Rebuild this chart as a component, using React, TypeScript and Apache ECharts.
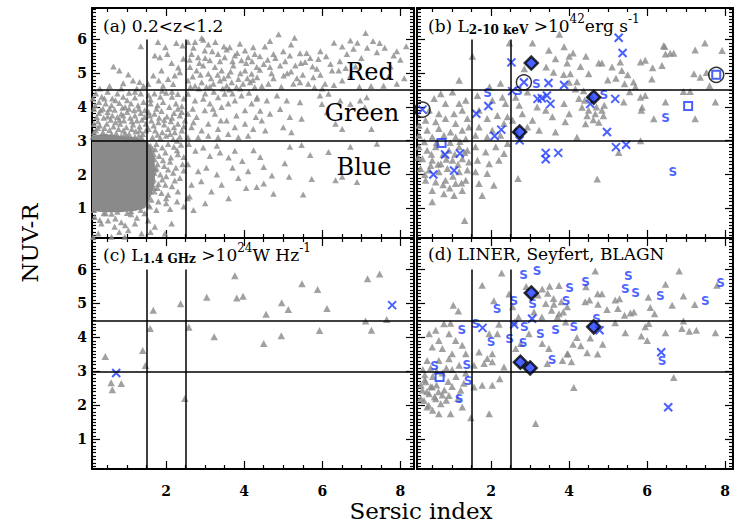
import React, { useEffect, useRef } from "react";
import * as echarts from "echarts";

const BLUE = "#1a3aff";
const GRAY = "#8a8a8a";
const SERIF = "DejaVu Serif";

// ---- axis ticks ----
const X_MAJOR = [2, 4, 6, 8];
const X_MINOR = [0.5, 1, 1.5, 2.5, 3, 3.5, 4.5, 5, 5.5, 6.5, 7, 7.5];
const Y_MAJOR = [1, 2, 3, 4, 5, 6];
const Y_MINOR: number[] = [];
for (let k = 2; k <= 69; k++) if (k % 10 !== 0) Y_MINOR.push(k / 10);

const Y_MIN = 0.12;
const Y_MAX = 6.93;

// ---- dividing lines ----
const COLOR_CUTS = [3, 4.5];
const SERSIC_CUTS = [1.5, 2.5];
const SERSIC_CUT_TOP = 6;

// ---- panel (a): all galaxies 0.2<z<1.2 ----
const A_DENSE = [
  [0.1, 3.15], [0.4, 3.2], [0.8, 3.15], [1.2, 3.1], [1.45, 3.02], [1.6, 2.85], [1.7, 2.5],
  [1.72, 2.0], [1.68, 1.6], [1.58, 1.25], [1.45, 1.0], [1.2, 0.92], [0.8, 0.88], [0.4, 0.88], [0.1, 0.92],
];
const A_TRI = [
  [0.65, 5.2], [0.8, 5.08], [1.03, 4.96], [1.15, 4.78], [1.32, 4.74], [1.35, 5.8], [1.42, 4.62], [0.55, 4.62], [0.9, 4.7],
  [1.79, 5.92], [1.98, 5.77], [1.71, 5.52], [1.84, 5.47], [2.03, 5.57], [2.14, 5.3], [2.26, 5.89], [1.67, 4.93], [1.81, 4.78],
  [2.05, 4.83], [2.22, 4.93], [2.35, 5.03], [2.42, 5.82], [1.54, 4.68], [1.92, 4.63], [2.18, 4.68], [2.31, 5.17], [2.44, 5.43], [1.88, 5.08],
  [2.56, 5.92], [2.74, 5.92], [2.95, 5.99], [3.08, 5.85], [3.26, 5.92], [3.48, 5.79], [3.63, 5.77], [3.89, 5.87], [4.02, 5.67],
  [4.23, 5.77], [2.65, 5.57], [2.82, 5.47], [2.99, 5.67], [3.12, 5.38], [3.33, 5.57], [3.5, 5.47], [3.76, 5.52], [3.93, 5.38],
  [4.1, 5.47], [4.27, 5.57], [2.61, 5.18], [2.78, 5.08], [2.95, 5.23], [3.08, 4.98], [3.25, 5.18], [3.42, 5.08], [3.59, 4.93],
  [3.72, 5.23], [3.85, 4.83], [4.02, 5.08], [4.19, 4.98], [4.32, 5.18], [2.56, 4.78], [2.74, 4.63], [2.91, 4.73], [3.03, 4.59],
  [3.21, 4.69], [3.38, 4.78], [3.55, 4.63], [3.68, 4.73], [3.8, 4.59], [3.97, 4.69], [4.15, 4.73], [4.27, 4.59], [2.91, 6.04],
  [4.88, 6.15], [5.29, 6.05], [4.66, 5.95], [4.53, 5.79], [4.4, 5.5], [4.75, 5.57], [5.17, 5.52], [5.43, 5.59], [5.69, 5.45],
  [5.9, 5.42], [4.5, 5.27], [4.66, 5.18], [4.92, 5.23], [5.31, 5.23], [5.56, 5.33], [5.86, 5.13], [6.21, 5.27], [6.51, 5.79],
  [6.72, 5.97], [6.8, 5.72], [6.63, 5.57], [7.11, 6.19], [7.47, 5.89], [7.15, 5.75], [7.4, 5.62], [7.83, 5.52], [7.91, 5.65],
  [6.42, 5.08], [6.72, 4.93], [6.51, 4.78], [6.25, 5.08], [7.91, 4.69], [4.33, 4.88], [4.62, 4.69], [5.01, 4.93], [5.26, 4.69],
  [5.43, 4.73], [5.64, 4.69], [5.77, 4.88], [6.07, 4.69], [7.57, 4.63], [7.0, 5.45], [6.95, 4.6], [7.25, 4.62], [5.1, 5.0],
  [2.6, 5.4], [2.7, 5.75], [2.85, 5.3], [3.0, 5.45], [3.18, 5.65], [3.38, 5.35], [3.55, 5.7], [3.7, 5.35], [3.82, 5.6],
  [4.05, 5.3], [4.2, 5.35], [2.68, 4.9], [2.88, 4.95], [3.15, 4.85], [3.32, 4.95], [3.48, 4.85], [3.65, 5.05], [3.9, 5.0],
  [4.08, 4.85], [2.62, 4.6], [2.84, 4.55], [3.12, 4.6], [3.45, 4.55], [3.62, 4.52], [3.9, 4.55], [4.22, 4.8],
  [4.4, 5.1], [4.6, 5.4], [4.8, 5.45], [5.0, 5.65], [5.05, 5.35], [5.2, 5.85], [5.45, 5.3], [5.6, 5.6], [5.75, 5.2],
  [5.95, 5.65], [4.45, 4.62], [4.75, 4.85], [4.95, 4.6], [5.2, 5.05], [5.5, 4.95], [5.8, 4.58], [5.95, 4.95], [4.7, 5.0], [5.35, 4.85],
  [6.1, 5.5], [6.3, 5.9], [6.45, 5.35], [6.6, 5.15], [6.9, 5.9], [7.3, 5.95], [7.6, 5.75], [7.75, 5.2], [8.0, 5.4],
  [8.1, 4.85], [6.3, 4.65], [6.85, 5.2], [7.7, 4.9], [8.15, 5.8], [6.0, 4.55],
  [0.2, 4.4], [0.35, 4.3], [0.5, 4.45], [0.62, 4.25], [0.75, 4.4], [0.9, 4.3], [1.05, 4.42], [1.2, 4.28], [1.35, 4.4],
  [0.28, 4.15], [0.45, 4.1], [0.6, 4.05], [0.8, 4.12], [0.95, 4.0], [1.1, 4.1], [1.28, 4.05], [1.42, 4.15], [0.15, 3.95],
  [0.32, 3.9], [0.5, 3.85], [0.68, 3.92], [0.85, 3.8], [1.0, 3.85], [1.18, 3.9], [1.35, 3.82], [0.22, 3.7], [0.4, 3.68],
  [0.58, 3.62], [0.75, 3.7], [0.92, 3.6], [1.08, 3.68], [1.25, 3.6], [1.45, 3.7], [0.15, 3.5], [0.3, 3.45], [0.48, 3.5],
  [0.65, 3.42], [0.82, 3.5], [0.98, 3.4], [1.15, 3.48], [1.32, 3.42], [1.48, 3.5], [0.2, 3.3], [0.38, 3.25], [0.55, 3.32],
  [0.72, 3.22], [0.9, 3.3], [1.05, 3.2], [1.22, 3.28], [1.4, 3.2], [0.12, 3.12], [0.3, 3.1], [0.48, 3.15], [0.66, 3.08],
  [0.85, 3.14], [1.02, 3.07], [1.2, 3.12], [1.38, 3.08], [0.25, 3.58], [0.7, 3.55], [1.2, 3.75], [0.42, 4.25], [1.0, 4.2],
  [0.55, 3.95], [1.3, 3.95], [0.88, 3.98], [0.12, 4.25], [1.48, 3.3],
  [0.18, 4.05], [0.38, 3.95], [0.62, 3.75], [0.8, 3.62], [1.12, 3.58], [1.38, 3.62], [0.25, 3.38], [0.42, 3.38], [0.6, 3.2],
  [0.78, 3.35], [0.95, 3.22], [1.12, 3.35], [1.3, 3.15], [0.15, 3.25], [0.35, 3.02], [0.55, 3.05], [0.75, 3.05], [0.95, 3.08],
  [1.15, 3.02], [1.32, 3.3], [0.5, 3.72], [0.9, 3.75], [1.05, 3.95], [1.45, 3.9], [0.28, 3.82], [0.7, 4.2], [1.2, 4.45],
  [0.3, 4.55], [0.85, 4.55], [1.25, 4.55],
  [1.55, 4.35], [1.7, 4.4], [1.85, 4.3], [2.0, 4.42], [2.15, 4.3], [2.3, 4.38], [2.45, 4.25], [1.6, 4.1], [1.78, 4.05],
  [1.92, 4.15], [2.08, 4.0], [2.25, 4.1], [2.4, 4.02], [1.55, 3.85], [1.7, 3.8], [1.88, 3.88], [2.02, 3.72], [2.2, 3.82],
  [2.35, 3.75], [1.62, 3.6], [1.8, 3.55], [1.95, 3.48], [2.12, 3.58], [2.3, 3.5], [2.48, 3.6], [1.55, 3.35], [1.72, 3.3],
  [1.9, 3.25], [2.05, 3.35], [2.22, 3.25], [2.4, 3.3], [1.65, 3.1], [1.85, 3.08], [2.0, 3.15], [2.18, 3.05], [2.35, 3.12],
  [1.75, 3.95], [2.3, 3.95], [1.95, 3.62], [2.45, 3.42],
  [1.58, 3.75], [1.82, 3.68], [2.15, 3.68], [2.4, 3.85], [1.68, 3.45], [2.2, 3.4], [1.78, 3.18], [2.1, 3.2], [2.28, 3.0],
  [1.6, 4.22], [2.15, 4.45], [1.9, 4.48],
  [2.56, 4.39], [2.74, 4.19], [2.95, 4.24], [3.12, 4.1], [3.33, 4.29], [3.5, 4.39], [2.56, 3.8], [2.78, 3.7], [2.99, 3.9],
  [3.25, 3.8], [3.42, 4.0], [3.59, 4.1], [3.76, 4.19], [3.93, 4.34], [4.02, 3.9], [4.19, 4.1], [4.32, 4.24], [2.65, 3.4],
  [2.91, 3.3], [3.08, 3.5], [3.33, 3.35], [3.55, 3.6], [3.76, 3.4], [4.02, 3.5], [4.23, 3.35], [2.56, 3.1], [2.82, 3.1],
  [3.08, 3.15], [3.33, 3.1], [3.59, 3.2], [3.85, 3.1], [4.1, 3.15],
  [2.68, 3.95], [3.0, 4.4], [3.22, 4.45], [3.7, 4.4], [4.12, 4.42], [3.4, 3.6], [3.8, 3.75], [2.7, 3.55], [3.2, 3.95], [4.3, 3.7],
  [4.33, 4.29], [4.58, 4.19], [4.84, 4.34], [5.09, 4.19], [4.41, 3.89], [4.66, 3.8], [4.92, 3.94], [5.17, 3.7], [5.43, 4.14],
  [5.47, 3.65], [5.94, 4.34], [5.99, 4.09], [6.16, 4.39], [6.12, 3.84], [6.46, 4.19], [6.34, 3.5], [6.51, 3.35], [6.72, 4.09],
  [6.97, 4.19], [7.14, 4.29], [7.09, 3.99], [7.26, 3.35], [4.45, 3.6], [5.0, 3.4], [5.21, 3.25], [4.54, 3.3],
  [1.6, 2.85], [1.75, 2.9], [1.9, 2.8], [2.05, 2.9], [2.2, 2.82], [2.38, 2.88], [1.68, 2.6], [1.82, 2.55], [1.98, 2.65],
  [2.12, 2.5], [2.3, 2.6], [2.45, 2.52], [1.62, 2.35], [1.78, 2.3], [1.95, 2.25], [2.1, 2.38], [2.25, 2.2], [2.42, 2.3],
  [1.7, 2.05], [1.85, 2.0], [2.0, 1.95], [2.18, 2.05], [2.35, 1.9], [1.65, 1.8], [1.8, 1.72], [1.98, 1.7], [2.15, 1.65],
  [1.7, 1.5], [1.88, 1.45], [2.05, 1.4], [2.3, 1.5], [1.62, 1.25], [1.8, 1.2], [2.0, 1.15], [2.28, 1.2], [2.55, 1.3],
  [1.75, 0.95], [2.1, 0.98], [2.45, 1.05], [1.58, 1.05],
  [1.72, 2.75], [1.92, 2.42], [2.28, 2.72], [1.75, 2.18], [2.05, 2.15], [1.9, 1.85], [2.22, 1.82], [1.78, 1.6], [2.45, 2.12], [2.0, 1.3],
  [2.58, 2.9], [2.75, 2.7], [2.95, 2.8], [3.12, 2.55], [3.38, 2.65], [3.6, 2.5], [3.76, 2.7], [3.95, 2.4], [2.56, 2.3],
  [2.82, 2.1], [3.03, 2.2], [3.3, 2.0], [2.65, 1.7], [2.9, 1.8], [3.16, 1.5], [3.42, 1.7], [3.6, 1.3], [2.6, 1.35],
  [3.0, 1.15], [3.85, 1.9], [4.1, 2.1], [4.05, 1.6], [3.7, 2.2], [2.7, 0.95], [3.3, 2.85],
  [4.24, 2.72], [4.41, 2.52], [4.5, 2.22], [4.71, 1.97], [4.75, 1.43], [5.17, 2.82], [5.47, 2.87], [5.69, 2.58], [5.04, 2.33],
  [5.15, 1.93], [5.51, 1.41], [5.73, 1.87], [6.16, 2.67], [6.34, 1.83], [6.51, 1.93], [6.72, 2.82], [6.89, 1.78], [4.32, 1.63],
  [4.5, 1.73], [7.4, 2.91],
  [0.17, 0.74], [0.34, 0.55], [0.51, 0.64], [0.68, 0.45], [0.85, 0.59], [1.03, 0.35], [1.2, 0.55], [1.37, 0.25], [0.26, 0.25],
  [0.6, 0.16], [0.94, 0.16], [1.54, 0.64], [1.71, 0.45], [1.97, 0.25], [2.14, 0.55], [0.13, 0.15], [0.45, 0.85], [1.1, 0.82],
  [1.45, 0.85], [0.8, 0.3], [0.3, 0.65], [0.7, 0.7], [1.25, 0.72], [1.6, 0.3], [0.95, 0.5],
  [1.65, 2.75], [1.7, 2.45], [1.72, 2.15], [1.68, 1.85], [1.7, 1.6], [1.55, 1.1], [1.35, 0.95], [1.1, 0.92], [0.75, 0.9],
  [0.4, 0.85], [0.15, 0.95], [1.5, 2.95], [1.58, 2.55], [1.62, 2.05], [1.6, 1.5], [1.52, 1.35], [0.6, 0.84], [1.0, 0.86],
];

// ---- panel (b): X-ray AGN ----
const B_TRI = [
  [2.47, 5.89], [3.06, 5.89], [1.52, 5.5], [1.18, 4.79], [1.96, 4.6], [2.24, 4.7], [3.48, 5.68], [3.87, 5.78], [3.65, 5.43],
  [4.0, 5.5], [3.41, 5.18], [3.6, 5.03], [3.86, 4.96], [4.0, 4.73], [2.85, 5.13], [3.75, 6.15],
  [0.71, 4.39], [1.01, 4.44], [0.54, 4.25], [0.83, 4.1], [1.18, 4.1], [1.35, 4.2], [0.41, 3.9], [0.66, 3.8], [1.05, 3.8],
  [1.26, 3.9], [0.32, 3.61], [0.58, 3.56], [0.83, 3.66], [1.09, 3.51], [1.39, 3.66], [0.36, 3.31], [0.66, 3.36], [0.96, 3.26],
  [1.26, 3.31], [1.43, 3.41], [0.49, 3.11], [0.79, 3.16], [1.09, 3.11], [1.35, 3.06], [0.15, 3.46], [0.15, 3.16],
  [1.65, 4.34], [2.03, 4.2], [2.29, 4.29], [1.69, 3.9], [1.9, 3.66], [2.16, 3.75], [2.37, 4.1], [1.69, 3.41], [2.03, 3.31],
  [2.33, 3.51], [1.6, 3.16], [1.9, 3.11], [2.24, 3.16], [2.42, 3.71],
  [2.63, 4.29], [2.93, 4.44], [3.18, 4.0], [3.4, 3.9], [2.8, 3.8], [3.06, 3.61], [3.57, 3.71], [3.87, 4.1], [4.0, 3.8],
  [2.63, 3.31], [2.93, 3.41], [3.23, 3.31], [3.65, 3.26], [3.9, 3.56], [2.55, 3.61], [2.72, 4.05],
  [0.15, 2.82], [0.36, 2.72], [0.58, 2.82], [0.92, 2.72], [1.18, 2.82], [1.39, 2.72], [0.24, 2.47], [0.49, 2.42], [0.71, 2.32],
  [1.01, 2.42], [1.26, 2.47], [1.43, 2.37], [0.19, 2.18], [0.41, 2.13], [0.66, 2.08], [0.88, 2.18], [1.18, 2.08], [1.39, 2.13],
  [0.32, 1.83], [0.58, 1.78], [0.83, 1.83], [1.09, 1.73], [1.35, 1.83], [0.49, 1.53], [0.79, 1.43], [1.05, 1.38], [1.26, 1.53],
  [0.49, 1.19], [1.32, 0.64], [1.77, 1.38],
  [0.29, 2.97], [0.47, 2.6], [0.77, 2.6], [1.07, 2.6], [1.32, 2.65], [0.64, 2.3], [1.02, 1.95], [0.77, 1.7], [0.94, 1.6],
  [0.3, 2.0], [0.13, 2.5], [1.24, 1.75], [0.6, 2.95], [0.95, 2.95], [1.2, 2.98], [0.45, 2.27], [0.85, 2.45], [1.15, 2.3],
  [1.6, 2.82], [1.86, 2.67], [2.12, 2.82], [2.33, 2.62], [1.65, 2.42], [1.95, 2.32], [2.2, 2.42], [1.6, 2.08], [1.9, 2.03],
  [1.69, 1.73], [2.07, 1.68], [2.42, 2.92], [2.69, 1.88],
  [4.43, 5.5], [4.29, 5.2], [4.76, 5.3], [4.84, 5.3], [4.03, 4.98], [4.5, 4.98], [4.99, 4.8], [5.1, 5.18], [5.31, 5.33],
  [5.35, 5.08], [5.42, 4.69], [5.65, 4.74], [5.83, 5.33], [5.95, 5.38], [6.14, 5.16], [6.12, 4.83], [6.38, 5.23], [6.45, 5.79],
  [6.59, 5.59], [6.47, 5.57], [7.2, 4.98], [7.36, 4.88], [7.48, 5.89], [7.92, 5.67], [7.6, 4.63], [4.16, 4.53], [4.37, 4.48],
  [5.4, 4.15], [5.83, 4.29], [5.95, 4.34], [5.87, 3.99], [5.85, 3.9], [6.47, 4.15], [6.17, 3.65], [6.93, 4.46], [7.1, 4.46],
  [7.23, 3.65], [7.75, 4.15], [4.33, 3.99], [4.46, 3.74], [4.67, 3.8], [4.84, 3.9], [4.88, 3.74], [4.76, 3.55], [4.42, 3.5],
  [4.2, 3.1], [5.83, 3.0], [5.27, 2.65], [4.72, 1.87],
  [4.4, 4.2], [4.55, 4.35], [4.7, 4.0], [4.9, 4.05], [4.5, 3.9], [4.25, 4.25], [4.62, 3.62], [5.2, 4.85], [5.5, 4.95],
  [5.7, 4.6], [5.55, 4.45], [3.95, 5.3], [4.1, 5.6], [4.2, 4.75], [7.23, 5.69], [7.52, 5.02], [6.42, 5.81], [6.68, 5.59],
];
const B_X = [
  [0.24, 3.92], [2.52, 5.32], [2.84, 4.73], [3.47, 4.71], [3.87, 4.65], [2.54, 4.47], [3.19, 4.24], [3.3, 4.26], [3.43, 4.34],
  [3.52, 4.09], [1.93, 4.03], [1.62, 3.8], [2.26, 3.33], [2.09, 3.14], [2.73, 3.01], [0.82, 2.59], [1.2, 2.62], [0.52, 2.0],
  [1.05, 2.12], [3.4, 2.64], [3.4, 2.45], [3.72, 2.64], [5.27, 6.05], [5.37, 5.6], [4.54, 4.09], [5.18, 4.24], [4.97, 3.26],
  [5.2, 2.81], [5.46, 2.88],
];
const B_S = [[2.7, 4.47], [3.16, 4.69], [1.91, 4.41], [4.89, 4.36], [6.47, 3.67], [6.66, 2.07]];
const B_SQ = [[0.73, 2.93], [7.05, 4.03], [7.77, 4.95]];
const B_DIA = [[3.03, 5.3], [2.73, 3.26], [4.63, 4.29]];
const B_CIRC = [[0.24, 3.92], [2.84, 4.73], [7.77, 4.95]];

// ---- panel (c): radio AGN ----
const C_TRI = [
  [0.44, 3.44], [0.59, 2.66], [0.62, 2.46], [0.85, 2.64], [1.4, 3.61], [1.47, 3.17], [1.59, 4.26], [1.67, 4.8], [2.37, 4.99],
  [2.48, 2.2], [2.58, 4.3], [3.04, 5.18], [3.23, 4.02], [3.76, 5.82], [3.81, 5.16], [3.97, 5.21], [4.5, 3.82], [4.56, 4.68],
  [4.96, 5.02], [4.95, 4.05], [5.13, 4.82], [5.48, 5.58], [5.88, 5.41], [5.93, 4.2], [6.12, 4.85], [7.11, 4.48], [7.16, 5.73],
  [7.26, 4.21], [7.47, 5.87], [7.65, 4.53],
];
const C_X = [[0.72, 2.95], [7.79, 4.95]];

// ---- panel (d): optical emission-line AGN ----
const D_TRI = [
  [2.27, 5.9], [1.77, 5.54], [1.03, 4.95], [1.16, 4.78], [2.07, 5.08], [2.46, 5.28], [3.31, 5.43], [3.5, 5.51], [3.74, 5.53],
  [3.4, 5.0], [3.61, 4.98], [3.74, 4.7], [3.91, 4.45], [0.79, 4.4], [0.96, 4.42], [0.58, 4.21], [0.41, 4.11], [0.66, 3.91],
  [0.92, 4.11], [1.09, 3.91], [1.26, 3.77], [0.49, 3.72], [0.75, 3.67], [1.0, 3.52], [1.35, 3.52], [1.69, 3.57], [1.9, 3.38],
  [2.03, 3.52], [2.16, 4.11], [2.2, 4.39], [1.95, 4.11], [0.36, 3.32], [0.66, 3.32], [0.92, 3.37], [1.18, 3.18], [1.56, 3.18],
  [1.82, 3.23], [2.03, 3.28], [2.33, 3.13], [2.97, 4.11], [2.76, 3.82], [2.63, 3.67], [3.31, 3.82], [3.48, 3.67], [3.44, 3.23],
  [3.83, 3.32], [3.95, 3.52], [0.24, 2.44], [0.32, 2.69], [0.41, 2.34], [0.49, 2.54], [0.28, 2.14], [0.36, 1.95], [0.58, 2.19],
  [0.71, 2.04], [0.92, 2.29], [0.96, 1.75], [1.22, 2.44], [1.26, 1.95], [1.56, 2.54], [1.77, 2.59], [2.03, 2.59], [2.22, 2.78],
  [1.95, 1.75], [1.48, 1.63], [0.66, 1.75], [3.14, 1.46],
  [0.3, 2.9], [0.5, 2.85], [0.75, 2.95], [0.9, 2.7], [1.1, 2.85], [1.3, 2.65], [0.25, 3.05], [0.45, 3.1], [0.6, 3.0],
  [0.85, 3.1], [1.0, 3.05], [1.35, 2.95], [0.2, 2.6], [0.6, 2.6], [0.8, 2.45], [1.0, 2.55], [0.35, 2.4], [0.55, 2.25],
  [0.75, 2.3], [0.3, 2.75], [0.45, 2.55], [1.15, 2.2], [0.2, 2.2], [0.4, 2.0], [0.65, 2.4], [0.85, 2.15], [0.5, 1.85],
  [3.2, 5.25], [3.45, 5.3], [3.6, 5.15], [3.8, 5.05], [3.85, 4.75], [3.55, 4.8], [3.7, 4.6], [3.95, 4.9], [3.3, 4.6],
  [2.7, 4.6], [2.55, 4.9], [2.9, 5.5], [3.1, 4.75], [2.6, 4.45],
  [4.67, 5.96], [6.82, 5.96], [4.43, 5.49], [4.41, 5.05], [4.52, 5.1], [4.73, 5.29], [4.84, 5.29], [4.74, 4.98], [4.97, 4.82],
  [5.18, 5.1], [5.29, 5.14], [5.25, 4.85], [5.42, 4.65], [5.57, 4.72], [5.66, 4.75], [6.03, 5.18], [6.08, 4.88], [6.19, 4.7],
  [6.47, 5.57], [6.64, 4.95], [6.93, 5.22], [7.22, 4.97], [7.79, 5.54], [6.93, 4.48], [6.89, 4.26], [7.08, 4.18], [7.26, 4.21],
  [7.75, 4.14], [6.47, 4.14], [6.04, 4.41], [5.95, 4.31], [5.85, 4.04], [6.0, 3.91], [5.18, 4.43], [5.44, 4.14], [4.54, 3.98],
  [4.86, 3.8], [4.46, 3.55], [4.73, 3.51], [3.97, 3.51], [4.06, 3.28], [6.68, 2.82], [4.12, 2.52], [4.2, 4.0], [4.3, 3.75], [4.1, 3.8],
];
const D_X = [[1.78, 4.28], [2.59, 4.38], [3.05, 4.55], [4.78, 4.21], [6.36, 3.56], [6.54, 1.94]];
const D_S = [
  [2.83, 5.85], [3.18, 5.95], [3.06, 4.97], [2.58, 5.08], [2.15, 4.84], [2.85, 4.31], [2.47, 3.94], [2.82, 3.84], [2.0, 3.86],
  [1.6, 4.38], [1.25, 4.21], [0.55, 3.15], [1.38, 3.2], [1.41, 2.71], [1.18, 2.17], [4.01, 5.47], [3.92, 5.07], [4.42, 5.63],
  [4.7, 4.55], [4.12, 4.31], [3.65, 4.21], [3.26, 4.11], [3.56, 3.33], [5.52, 5.8], [5.44, 5.42], [5.7, 5.3], [6.34, 5.23],
  [6.38, 3.3], [7.49, 5.08], [7.88, 5.61],
];
const D_SQ = [[0.68, 2.83]];
const D_DIA = [[3.03, 5.31], [2.75, 3.27], [3.0, 3.1], [4.63, 4.31]];

const GRIDS = [
  { left: 92, top: 8, width: 322, height: 230, xMin: 0.1, xMax: 8.35, showX: false, showY: true },
  { left: 417, top: 8, width: 316, height: 230, xMin: 0.1, xMax: 8.2, showX: false, showY: false },
  { left: 92, top: 238, width: 322, height: 231, xMin: 0.1, xMax: 8.35, showX: true, showY: true },
  { left: 417, top: 238, width: 316, height: 231, xMin: 0.1, xMax: 8.2, showX: true, showY: false },
];

const CROSS = "path://M0 0L10 10M10 0L0 10";

function buildOption() {
  const axisLine = { show: true, onZero: false, lineStyle: { color: "#000", width: 2 } };
  const tickStyle = { color: "#000", width: 1.2 };
  const labelStyle = { color: "#000", fontFamily: SERIF, fontWeight: "bold" as const, fontSize: 14 };
  const xAxis: any[] = [];
  const yAxis: any[] = [];
  GRIDS.forEach((g, i) => {
    const xb = { gridIndex: i, type: "value", min: g.xMin, max: g.xMax, splitLine: { show: false } };
    xAxis.push({ ...xb, position: "bottom", axisLine,
      axisTick: { show: true, inside: true, length: 8, customValues: X_MAJOR, lineStyle: tickStyle },
      axisLabel: { show: g.showX, customValues: X_MAJOR, margin: 15, lineHeight: 14, ...labelStyle } });
    xAxis.push({ ...xb, position: "top", axisLine,
      axisTick: { show: true, inside: true, length: 8, customValues: X_MAJOR, lineStyle: tickStyle },
      axisLabel: { show: false } });
    xAxis.push({ ...xb, position: "bottom", axisLine: { show: false },
      axisTick: { show: true, inside: true, length: 4, customValues: X_MINOR, lineStyle: tickStyle },
      axisLabel: { show: false } });
    xAxis.push({ ...xb, position: "top", axisLine: { show: false },
      axisTick: { show: true, inside: true, length: 4, customValues: X_MINOR, lineStyle: tickStyle },
      axisLabel: { show: false } });
    const yb = { gridIndex: i, type: "value", min: Y_MIN, max: Y_MAX, splitLine: { show: false } };
    yAxis.push({ ...yb, position: "left", axisLine,
      axisTick: { show: true, inside: true, length: 8, customValues: Y_MAJOR, lineStyle: tickStyle },
      axisLabel: { show: g.showY, customValues: Y_MAJOR, margin: 5, ...labelStyle } });
    yAxis.push({ ...yb, position: "right", axisLine,
      axisTick: { show: true, inside: true, length: 8, customValues: Y_MAJOR, lineStyle: tickStyle },
      axisLabel: { show: false } });
    yAxis.push({ ...yb, position: "left", axisLine: { show: false },
      axisTick: { show: true, inside: true, length: 4, customValues: Y_MINOR, lineStyle: tickStyle },
      axisLabel: { show: false } });
    yAxis.push({ ...yb, position: "right", axisLine: { show: false },
      axisTick: { show: true, inside: true, length: 4, customValues: Y_MINOR, lineStyle: tickStyle },
      axisLabel: { show: false } });
  });

  const ax = (i: number) => ({ xAxisIndex: i * 4, yAxisIndex: i * 4 });
  const markLine = (i: number) => ({
    silent: true, symbol: ["none", "none"], label: { show: false }, animation: false,
    lineStyle: { color: "#000", width: 1.5, type: "solid" },
    emphasis: { disabled: true },
    data: [
      ...COLOR_CUTS.map((v) => [{ coord: [GRIDS[i].xMin, v] }, { coord: [GRIDS[i].xMax, v] }]),
      ...SERSIC_CUTS.map((v) => [{ coord: [v, Y_MIN] }, { coord: [v, SERSIC_CUT_TOP] }]),
    ],
  });
  const tri = (i: number, data: number[][], size: number[]) => ({
    type: "scatter", ...ax(i), data, symbol: "triangle", symbolSize: size,
    itemStyle: { color: GRAY }, z: 2, silent: true, markLine: markLine(i),
  });
  const cross = (i: number, data: number[][]) => ({
    type: "scatter", ...ax(i), data, symbol: CROSS, symbolSize: 8,
    itemStyle: { color: "rgba(0,0,0,0)", borderColor: BLUE, borderWidth: 2 }, z: 4, silent: true,
  });
  const ess = (i: number, data: number[][]) => ({
    type: "scatter", ...ax(i), data, symbol: "circle", symbolSize: 1,
    itemStyle: { color: "rgba(0,0,0,0)" }, z: 4, silent: true,
    label: { show: true, position: "inside", formatter: "S", color: BLUE, fontSize: 12, lineHeight: 9, fontWeight: "bold", fontFamily: "DejaVu Sans" },
  });
  const square = (i: number, data: number[][]) => ({
    type: "scatter", ...ax(i), data, symbol: "rect", symbolSize: 8,
    itemStyle: { color: "rgba(0,0,0,0)", borderColor: BLUE, borderWidth: 2 }, z: 4, silent: true,
  });
  const diamond = (i: number, data: number[][]) => ({
    type: "scatter", ...ax(i), data, symbol: "diamond", symbolSize: 13,
    itemStyle: { color: BLUE, borderColor: "#000", borderWidth: 2.5 }, z: 5, silent: true,
  });
  const circle = (i: number, data: number[][]) => ({
    type: "scatter", ...ax(i), data, symbol: "circle", symbolSize: 15,
    itemStyle: { color: "rgba(0,0,0,0)", borderColor: "#000", borderWidth: 1.5 }, z: 5, silent: true,
  });

  const series: any[] = [
    {
      type: "custom", ...ax(0), data: A_DENSE, z: 1, silent: true, clip: true,
      renderItem: (params: any, api: any) => {
        if (params.dataIndex !== 0) return null;
        return { type: "polygon", shape: { points: A_DENSE.map((p) => api.coord(p)) }, style: { fill: GRAY } };
      },
    },
    tri(0, A_TRI, [6.5, 6]),
    tri(1, B_TRI, [7.5, 7]), cross(1, B_X), ess(1, B_S), square(1, B_SQ), diamond(1, B_DIA), circle(1, B_CIRC),
    tri(2, C_TRI, [7.5, 7]), cross(2, C_X),
    tri(3, D_TRI, [7.5, 7]), cross(3, D_X), ess(3, D_S), square(3, D_SQ), diamond(3, D_DIA),
  ];

  const rich = {
    sub: { fontSize: 12, fontFamily: SERIF, fontWeight: "bold", verticalAlign: "bottom", padding: [0, 0, 3, 0] },
    sup: { fontSize: 12, fontFamily: SERIF, verticalAlign: "top" },
  };
  const panelText = (x: number, y: number, text: string, lh: number) => ({
    type: "text", x, y, z: 10, silent: true,
    style: { text, fontSize: 17, fontFamily: SERIF, fill: "#000", lineHeight: lh, align: "left", verticalAlign: "middle", rich },
  });
  const zoneText = (x: number, y: number, text: string) => ({
    type: "text", x, y, z: 10, silent: true,
    style: { text, fontSize: 24, fontFamily: SERIF, fill: "#000", lineHeight: 24, align: "center", verticalAlign: "middle" },
  });

  const graphic = [
    panelText(103, 26, "(a) 0.2<z<1.2", 16),
    panelText(428, 26, "(b) L{sub|2-10 keV} >10{sup|42}erg s{sup|-1}", 26),
    panelText(103, 255, "(c) L{sub|1.4 GHz} >10{sup|24}W Hz{sup|-1}", 26),
    panelText(428, 254, "(d) LINER, Seyfert, BLAGN", 16),
    zoneText(370, 72, "Red"),
    zoneText(362, 113, "Green"),
    zoneText(364, 167, "Blue"),
    {
      type: "text", x: 30, y: 243, rotation: Math.PI / 2, silent: true,
      style: { text: "NUV-R", fontSize: 23, fontFamily: SERIF, fill: "#000", lineHeight: 23, align: "center", verticalAlign: "middle" },
    },
    {
      type: "text", x: 421, y: 511, silent: true,
      style: { text: "Sersic index", fontSize: 23, fontFamily: SERIF, fill: "#000", lineHeight: 22, align: "center", verticalAlign: "middle" },
    },
  ];

  return {
    animation: false,
    backgroundColor: "#fff",
    grid: GRIDS.map((g) => ({ left: g.left, top: g.top, width: g.width, height: g.height, containLabel: false })),
    xAxis,
    yAxis,
    series,
    graphic,
  };
}

export default function App() {
  const ref = useRef<HTMLDivElement>(null);
  useEffect(() => {
    document.body.style.margin = "0";
    if (!ref.current) return;
    const chart = echarts.init(ref.current, undefined, { renderer: "svg" });
    chart.setOption(buildOption() as any);
    return () => chart.dispose();
  }, []);
  return <div ref={ref} style={{ width: 734, height: 523 }} />;
}
